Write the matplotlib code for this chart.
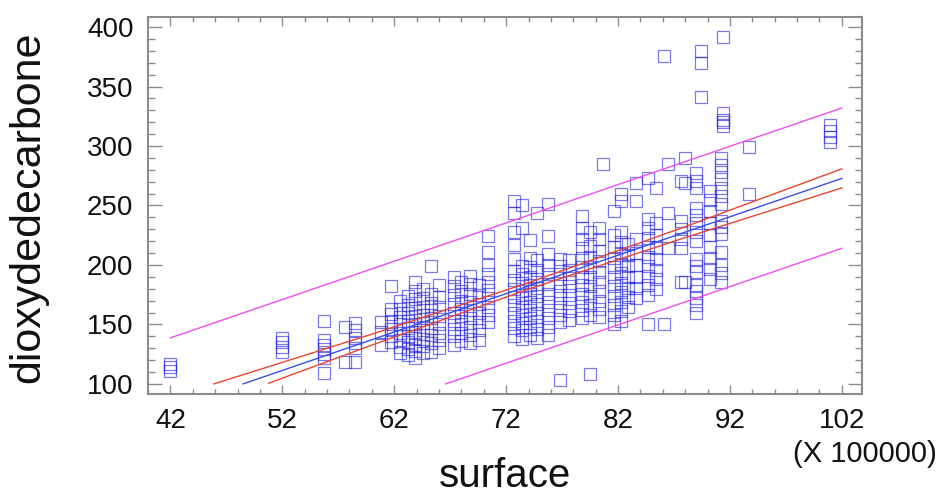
import matplotlib
matplotlib.use("Agg")
import matplotlib.pyplot as plt
from matplotlib.ticker import MultipleLocator

plt.rcParams['font.family'] = ['Liberation Sans', 'DejaVu Sans']

# scatter columns: x position (x 100000) and the y values read in that column
col_x = [42.0, 52.0, 55.7, 57.6, 58.5, 60.8, 61.7, 62.5, 63.2, 63.9, 64.6,
         65.3, 66.0, 67.3, 68.0, 68.8, 69.6, 70.4, 72.7, 73.4, 74.1, 74.8,
         75.7, 76.8, 77.6, 78.8, 79.5, 80.3, 80.7, 81.6, 82.3, 82.9, 83.6,
         84.7, 85.4, 86.1, 86.5, 87.6, 88.0, 89.0, 89.4, 90.2, 91.2, 91.4,
         93.7, 100.9]
col_y = [
    [111, 114, 117],
    [127, 131, 135, 139],
    [109, 122, 125, 129, 133, 137, 153],
    [118, 148],
    [118, 130, 134, 139, 145, 151],
    [133, 144, 152],
    [135, 140, 146, 152, 159, 163, 182],
    [126, 131, 137, 143, 150, 156, 163, 170],
    [124, 129, 135, 140, 147, 153, 160, 166, 174],
    [122, 128, 133, 139, 144, 150, 157, 164, 171, 178, 186],
    [126, 132, 138, 145, 151, 158, 165, 172, 180],
    [127, 134, 141, 147, 155, 162, 168, 176, 199],
    [130, 137, 143, 150, 157, 165, 173, 183],
    [133, 140, 146, 153, 160, 167, 175, 182, 190],
    [136, 143, 150, 157, 163, 170, 178, 186],
    [134, 141, 148, 155, 162, 169, 176, 184, 191],
    [137, 145, 152, 160, 167, 175, 183],
    [152, 158, 165, 172, 179, 186, 192, 200, 211, 224],
    [140, 147, 153, 160, 166, 173, 180, 187, 195, 205, 217, 228, 244, 254],
    [138, 145, 151, 158, 165, 172, 178, 185, 192, 199, 231, 250],
    [141, 148, 155, 162, 169, 176, 183, 190, 198, 206, 221],
    [139, 146, 153, 160, 167, 174, 181, 188, 196, 204, 244],
    [141, 148, 155, 162, 169, 176, 184, 192, 200, 209, 224, 251],
    [103, 152, 158, 165, 172, 178, 185, 192, 199, 205],
    [154, 161, 168, 175, 182, 189, 196, 204],
    [155, 162, 169, 176, 183, 190, 198, 206, 214, 222, 231, 241],
    [108, 158, 166, 174, 182, 190, 198, 207, 216, 228],
    [156, 163, 170, 178, 186, 194, 203, 212, 222, 231],
    [285],
    [150, 158, 166, 174, 182, 190, 198, 206, 215, 225, 245],
    [153, 161, 169, 177, 185, 193, 201, 210, 219, 228, 254, 260],
    [165, 173, 181, 190, 199, 208, 218],
    [172, 181, 190, 200, 210, 222, 254, 269],
    [150, 175, 183, 191, 199, 207, 215, 223, 231, 239, 273],
    [180, 188, 196, 205, 214, 225, 235, 265],
    [150, 376],
    [214, 244, 285],
    [186, 214, 222, 230, 237, 271],
    [186, 269, 290],
    [160, 166, 172, 178, 183, 194, 199, 205, 220, 228, 235, 242, 248, 265, 271, 277],
    [341, 370, 380],
    [188, 197, 206, 215, 225, 235, 245, 255, 262],
    [186, 193, 200, 211, 226, 232, 237, 251, 258, 265, 272, 278, 284, 290],
    [317, 320, 322, 328, 392],
    [260, 299],
    [303, 308, 313, 318],
]

# fitted line and bands
fit_x = [48.5, 102.0]
fit_y = [100.0, 272.8]
conf_up_x = [45.9, 60.0, 74.0, 88.0, 102.0]
conf_up_y = [100.0, 141.8, 185.1, 232.2, 280.8]
conf_lo_x = [50.8, 60.0, 74.0, 88.0, 102.0]
conf_lo_y = [100.6, 132.6, 179.7, 223.0, 264.8]
pred_up_x = [42.0, 102.0]
pred_up_y = [138.7, 332.0]
pred_lo_x = [66.6, 102.0]
pred_lo_y = [100.0, 214.0]

xs, ys = [], []
for x, col in zip(col_x, col_y):
    for y in col:
        xs.append(x)
        ys.append(y)

fig = plt.figure(figsize=(9.42, 4.94), dpi=100)
ax = fig.add_axes([148 / 942, 100 / 494, 714 / 942, 377 / 494])

ax.plot(xs, ys, linestyle='none', marker='s', markersize=8.4,
        markerfacecolor='none', markeredgecolor='#2222dd', markeredgewidth=0.9,
        alpha=0.6)
ax.plot(fit_x, fit_y, color='#3a4ee6', lw=1.0)
ax.plot(conf_up_x, conf_up_y, color='#e8452c', lw=1.0)
ax.plot(conf_lo_x, conf_lo_y, color='#e8452c', lw=1.0)
ax.plot(pred_up_x, pred_up_y, color='#ee4fee', lw=1.0)
ax.plot(pred_lo_x, pred_lo_y, color='#ee4fee', lw=1.0)

ax.set_xlim(40.0, 103.8)
ax.set_ylim(91.5, 408.5)
ax.xaxis.set_minor_locator(MultipleLocator(2))
ax.set_xticks([42, 52, 62, 72, 82, 92, 102])
ax.yaxis.set_minor_locator(MultipleLocator(10))
ax.set_yticks([100, 150, 200, 250, 300, 350, 400])

for s in ax.spines.values():
    s.set_color('#8c8c8c')
    s.set_linewidth(1.5)

ax.tick_params(which='both', direction='in', top=True, right=True,
               color='#8c8c8c', width=1.0, labelsize=20, labelcolor='#111111')
ax.tick_params(axis='x', which='major', length=6.5, pad=10)
ax.tick_params(axis='x', which='minor', length=3.3)
ax.tick_params(axis='y', which='major', length=10, pad=10.5)
ax.tick_params(axis='y', which='minor', length=5)

fig.text(505 / 942, 1 - 487 / 494, 'surface', fontsize=29,
         ha='center', va='baseline', color='#111111')
fig.text(28 / 942, 1 - 207 / 494, 'dioxydedecarbone', fontsize=31,
         rotation=90, ha='center', va='center', color='#111111')
fig.text(937 / 942, 1 - 454 / 494, '(X 100000)', fontsize=21,
         ha='right', va='center', color='#111111')

fig.savefig('out.png', dpi=100)
